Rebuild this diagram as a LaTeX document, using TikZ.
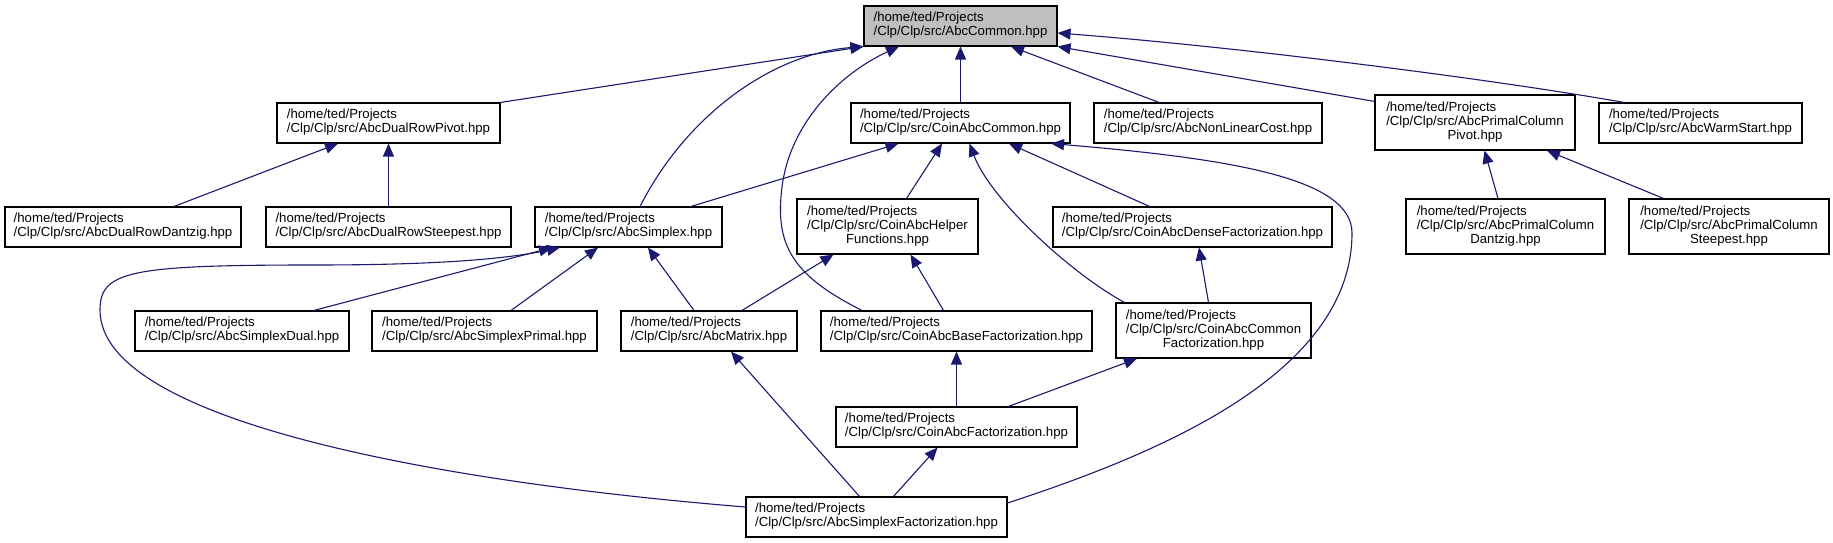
\documentclass[tikz,border=0pt]{standalone}
\usepackage{fontspec}
\setmainfont{Liberation Sans}
\usetikzlibrary{arrows.meta,calc}
\definecolor{edgeblue}{RGB}{25,25,112}
\definecolor{rootgray}{RGB}{191,191,191}
\newcommand{\hpp}[1]{\begin{tabular}{@{}l@{}}/home/ted/Projects\\/Clp/Clp/src/#1\end{tabular}}
\newcommand{\hppwrap}[2]{\begin{tabular}{@{}l@{}}/home/ted/Projects\\/Clp/Clp/src/#1\\\multicolumn{1}{@{}c@{}}{#2}\end{tabular}}

\begin{document}
\begin{tikzpicture}[x=1pt,y=1pt,
 font=\fontsize{13.2}{14}\selectfont,
 file/.style={draw=black, line width=1.1pt, fill=white, inner sep=0pt, minimum height=40pt},
 tall/.style={minimum height=55pt},
 root/.style={fill=rootgray},
 arr/.style={-{Triangle[length=13pt,width=11pt]}, line width=1.1pt, color=edgeblue}]
\useasboundingbox (0,0) rectangle (1833,543);
% files
\node[file, root, minimum width=193pt] (common) at (960.5,517) {\hpp{AbcCommon.hpp}};
\node[file, minimum width=223pt] (dualpivot) at (388.5,420) {\hpp{AbcDualRowPivot.hpp}};
\node[file, minimum width=219pt] (coincommon) at (960.5,420) {\hpp{CoinAbcCommon.hpp}};
\node[file, minimum width=228pt] (nonlin) at (1208,420) {\hpp{AbcNonLinearCost.hpp}};
\node[file, tall, minimum width=200pt] (primalpivot) at (1475,420.5) {\hppwrap{AbcPrimalColumn}{Pivot.hpp}};
\node[file, minimum width=203pt] (warm) at (1700.5,420) {\hpp{AbcWarmStart.hpp}};
\node[file, minimum width=236pt] (dantzig) at (123,316) {\hpp{AbcDualRowDantzig.hpp}};
\node[file, minimum width=245pt] (steepest) at (388.5,316) {\hpp{AbcDualRowSteepest.hpp}};
\node[file, minimum width=187pt] (simplex) at (628.5,316) {\hpp{AbcSimplex.hpp}};
\node[file, tall, minimum width=181pt] (helper) at (887.5,316.5) {\hppwrap{CoinAbcHelper}{Functions.hpp}};
\node[file, minimum width=279pt] (dense) at (1192.5,316) {\hpp{CoinAbcDenseFactorization.hpp}};
\node[file, tall, minimum width=199pt] (pcdantzig) at (1505.5,316.5) {\hppwrap{AbcPrimalColumn}{Dantzig.hpp}};
\node[file, tall, minimum width=200pt] (pcsteepest) at (1729,316.5) {\hppwrap{AbcPrimalColumn}{Steepest.hpp}};
\node[file, minimum width=214pt] (sdual) at (242,212) {\hpp{AbcSimplexDual.hpp}};
\node[file, minimum width=225pt] (sprimal) at (484.5,212) {\hpp{AbcSimplexPrimal.hpp}};
\node[file, minimum width=176pt] (matrix) at (709,212) {\hpp{AbcMatrix.hpp}};
\node[file, minimum width=271pt] (basefact) at (956.5,212) {\hpp{CoinAbcBaseFactorization.hpp}};
\node[file, tall, minimum width=195pt] (commonfact) at (1213.5,212.5) {\hppwrap{CoinAbcCommon}{Factorization.hpp}};
\node[file, minimum width=241pt] (coinfact) at (956.5,116) {\hpp{CoinAbcFactorization.hpp}};
\node[file, minimum width=261pt] (sfact) at (876.5,26) {\hpp{AbcSimplexFactorization.hpp}};
% includes of AbcCommon
\draw[arr] (dualpivot.north east) -- (common.south west);
\draw[arr] ([xshift=11.5pt]simplex.north) .. controls +(48,94) and +(-89,-7) .. (common.south west);
\draw[arr] ([xshift=-94.5pt]basefact.north) .. controls +(-72,36) and +(-7,-56) .. (782,356)
  .. controls +(8,64) and +(-59,-27) .. ([xshift=-61.5pt]common.south);
\draw[arr] (coincommon.north) -- (common.south);
\draw[arr] ([xshift=-49pt]nonlin.north) -- ([xshift=50.5pt]common.south);
\draw[arr] ([yshift=-7pt]primalpivot.north west) -- (common.south east);
\draw[arr] ([xshift=-76.5pt]warm.north) .. controls +(-124,22) and +(193,-15) .. ([yshift=-7pt]common.east);
% second level
\draw[arr] ([xshift=51pt]dantzig.north) -- ([xshift=-50.5pt]dualpivot.south);
\draw[arr] (steepest.north) -- (dualpivot.south);
\draw[arr] ([xshift=62.5pt]simplex.north) -- ([xshift=-62pt]coincommon.south);
\draw[arr] ([xshift=19pt]helper.north) -- ([xshift=-18.5pt]coincommon.south);
\draw[arr] ([xshift=9pt]commonfact.north west) .. controls +(-55,30) and +(20.5,-55) .. ([xshift=9pt]coincommon.south);
\draw[arr] ([xshift=-43pt]dense.north) -- ([xshift=48.5pt]coincommon.south);
\draw[arr] ([yshift=14pt]sfact.east) .. controls +(153,50) and +(0,-140) .. (1352,310)
  .. controls +(0,55) and +(179,-15) .. ([xshift=90.5pt]coincommon.south);
\draw[arr] ([xshift=-7.5pt]pcdantzig.north) -- ([xshift=9.5pt]primalpivot.south);
\draw[arr] ([xshift=-65.5pt]pcsteepest.north) -- ([xshift=72pt]primalpivot.south);
% AbcSimplex and below
\draw[arr] ([xshift=72pt]sdual.north) -- ([xshift=-76.5pt]simplex.south);
\draw[arr] ([xshift=26.5pt]sprimal.north) -- ([xshift=-30.5pt]simplex.south);
\draw[arr] ([xshift=-15pt]matrix.north) -- ([xshift=19.5pt]simplex.south);
\draw[arr] ([yshift=10pt]sfact.west) .. controls +(-296,24) and +(0,-113) .. (100,233)
  .. controls +(0,39) and +(-186,0) .. (316,278)
  .. controls +(104,0) and +(-60,-13) .. ([xshift=-68.5pt]simplex.south);
\draw[arr] ([xshift=33pt]matrix.north) -- ([xshift=-54pt]helper.south);
\draw[arr] ([xshift=-13pt]basefact.north) -- ([xshift=23pt]helper.south);
\draw[arr] ([xshift=-5pt]commonfact.north) -- ([xshift=6.5pt]dense.south);
\draw[arr] (coinfact.north) -- (basefact.south);
\draw[arr] ([xshift=52pt]coinfact.north) -- ([xshift=-76.5pt]commonfact.south);
\draw[arr] ([xshift=-17pt]sfact.north) -- ([xshift=22pt]matrix.south);
\draw[arr] ([xshift=17pt]sfact.north) -- ([xshift=-19pt]coinfact.south);
\end{tikzpicture}
\end{document}
